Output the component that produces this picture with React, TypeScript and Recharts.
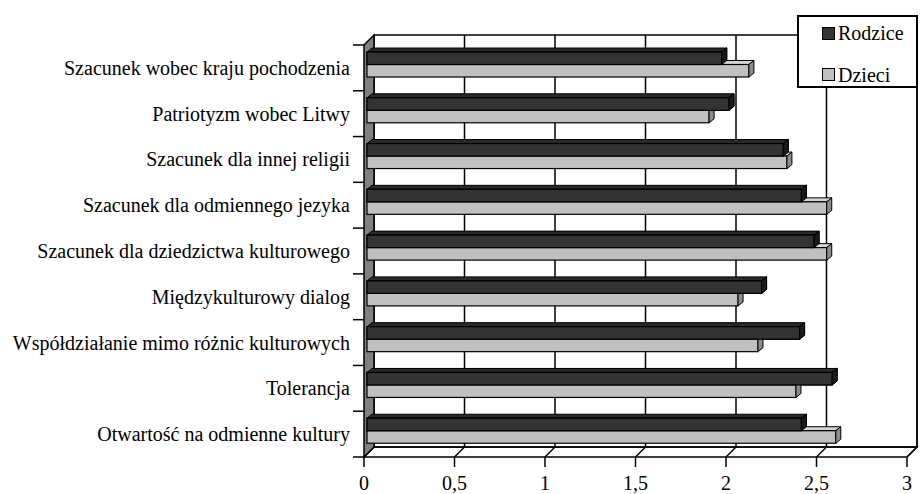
import React from "react";
import { BarChart, Bar, XAxis, YAxis, CartesianGrid, Legend, Customized } from "recharts";

const categories = [
  "Szacunek wobec kraju pochodzenia",
  "Patriotyzm wobec Litwy",
  "Szacunek dla innej religii",
  "Szacunek dla odmiennego jezyka",
  "Szacunek dla dziedzictwa kulturowego",
  "Międzykulturowy dialog",
  "Współdziałanie mimo różnic kulturowych",
  "Tolerancja",
  "Otwartość na odmienne kultury",
];
const rodzice = [1.96, 2.0, 2.3, 2.4, 2.47, 2.18, 2.39, 2.57, 2.4];
const dzieci = [2.11, 1.89, 2.32, 2.54, 2.54, 2.05, 2.16, 2.37, 2.59];
const xTicks = [0, 0.5, 1, 1.5, 2, 2.5, 3];
const seriesOrder = ["Rodzice", "Dzieci"];

const data = categories.map((c, i) => ({ name: c, rodzice: rodzice[i], dzieci: dzieci[i] }));

const FONT = "Liberation Serif";
const W = 920;
const H = 494;
// front plane of the plot
const PL = 364, PR = 907, PT = 45, PB = 457;
// depth of the 3d box
const DX = 10, DY = 10;
// depth of the bars
const BD = 5, BV = 4, SH = 3;
const SW = 1.5;

const DARK = "#333333";
const LIGHT = "#c0c0c0";

function Walls() {
  return (
    <g>
      <polygon
        points={`${PL},${PB} ${PR},${PB} ${PR + DX},${PB - DY} ${PL + DX},${PB - DY}`}
        fill="none" stroke="#000" strokeWidth={SW}
      />
      <rect x={PL + DX} y={PT - DY} width={PR - PL} height={PB - PT} fill="none" stroke="#000" strokeWidth={SW} />
      <polygon
        points={`${PL},${PT} ${PL + DX},${PT - DY} ${PL + DX},${PB - DY} ${PL},${PB}`}
        fill="#808080" stroke="#000" strokeWidth={SW}
      />
    </g>
  );
}

const gridLine = (props: any) => {
  const { x1, y1, y2 } = props;
  return (
    <g key={`g-${x1}`}>
      <line x1={x1 + DX} y1={y1 - DY} x2={x1 + DX} y2={y2 - DY} stroke="#000" strokeWidth={SW} />
      <line x1={x1} y1={y2} x2={x1 + DX} y2={y2 - DY} stroke="#000" strokeWidth={SW} />
    </g>
  );
};

function faces(x: number, y: number, w: number, h: number, front: string, top: string, side: string, withTop = true) {
  const x0 = x + SH, y0 = y - SH, x1 = x0 + w;
  return (
    <g>
      {withTop && (
        <polygon
          points={`${x0},${y0} ${x1},${y0} ${x1 + BD},${y0 - BV} ${x0 + BD},${y0 - BV}`}
          fill={top} stroke="#000" strokeWidth={1}
        />
      )}
      <rect x={x0} y={y0} width={w} height={h} fill={front} stroke="#000" strokeWidth={1.2} />
      <polygon
        points={`${x1},${y0} ${x1 + BD},${y0 - BV} ${x1 + BD},${y0 + h - BV} ${x1},${y0 + h}`}
        fill={side} stroke="#000" strokeWidth={1}
      />
    </g>
  );
}

const DarkBar = (props: any) => {
  const { x, y, width, height } = props;
  return faces(x, y, width, height, DARK, "#2a2a2a", "#1a1a1a");
};

// light bar sits under the dark one, so the dark front gets drawn again on top
const LightBar = (props: any) => {
  const { x, y, width, height, payload } = props;
  const darkW = (width * payload.rodzice) / payload.dzieci;
  return (
    <g>
      {faces(x, y, width, height, LIGHT, "#d4d4d4", "#8c8c8c")}
      {faces(x, y - height, darkW, height, DARK, "#2a2a2a", "#1a1a1a", false)}
    </g>
  );
};

const YTick = (props: any) => {
  const { x, y, payload } = props;
  const band = (PB - PT) / categories.length;
  const last = payload.value === categories[categories.length - 1];
  return (
    <g>
      <text x={x} y={y} dy="0.35em" textAnchor="end" fontSize={20} fontFamily={FONT} fill="#000">
        {payload.value}
      </text>
      <line x1={PL - 11} y1={y - band / 2} x2={PL} y2={y - band / 2} stroke="#000" strokeWidth={SW} />
      {last && <line x1={PL - 11} y1={y + band / 2} x2={PL} y2={y + band / 2} stroke="#000" strokeWidth={SW} />}
    </g>
  );
};

const XTick = (props: any) => {
  const { x, payload } = props;
  return (
    <text x={x} y={PB + 33} textAnchor="middle" fontSize={20} fontFamily={FONT} fill="#000">
      {String(payload.value).replace(".", ",")}
    </text>
  );
};

const renderLegend = (props: any) => {
  const items = [...(props.payload || [])].sort(
    (a: any, b: any) => seriesOrder.indexOf(a.value) - seriesOrder.indexOf(b.value)
  );
  return (
    <div
      style={{
        position: "relative",
        width: 121,
        height: 73,
        boxSizing: "border-box",
        border: "2px solid #000",
        background: "#fff",
        fontFamily: FONT,
        fontSize: 20,
      }}
    >
      {items.map((it: any, i: number) => (
        <div
          key={it.value}
          style={{ position: "absolute", left: 23, top: 4 + i * 41.5, height: 24, display: "flex", alignItems: "center" }}
        >
          <span
            style={{
              display: "inline-block",
              width: 13,
              height: 13,
              boxSizing: "border-box",
              border: "1.5px solid #000",
              background: it.color,
              marginRight: 3,
            }}
          />
          <span style={{ lineHeight: "24px", color: "#000" }}>{it.value}</span>
        </div>
      ))}
    </div>
  );
};

export default function App() {
  return (
    <div style={{ position: "absolute", left: 0, top: 0, width: W, height: H, background: "#fff" }}>
      <BarChart
        width={W}
        height={H}
        data={data}
        layout="vertical"
        margin={{ top: PT, right: W - PR, bottom: 0, left: 0 }}
        barGap={0}
        barSize={12.5}
      >
        <Customized component={<Walls />} />
        <CartesianGrid horizontal={false} vertical={gridLine} />
        <XAxis
          type="number"
          domain={[0, 3]}
          ticks={xTicks}
          height={H - PB}
          axisLine={false}
          tickLine={{ stroke: "#000", strokeWidth: SW }}
          tickSize={10}
          tick={<XTick />}
          interval={0}
        />
        <YAxis
          type="category"
          dataKey="name"
          width={PL}
          axisLine={false}
          tickLine={false}
          tickSize={11}
          tickMargin={3}
          tick={<YTick />}
          interval={0}
        />
        <Legend
          layout="vertical"
          align="center"
          verticalAlign="middle"
          wrapperStyle={{ left: 797, top: 15, width: 121, height: 73 }}
          content={renderLegend}
        />
        <Bar dataKey="rodzice" name="Rodzice" fill={DARK} shape={DarkBar} isAnimationActive={false} />
        <Bar dataKey="dzieci" name="Dzieci" fill={LIGHT} shape={LightBar} isAnimationActive={false} />
      </BarChart>
    </div>
  );
}
